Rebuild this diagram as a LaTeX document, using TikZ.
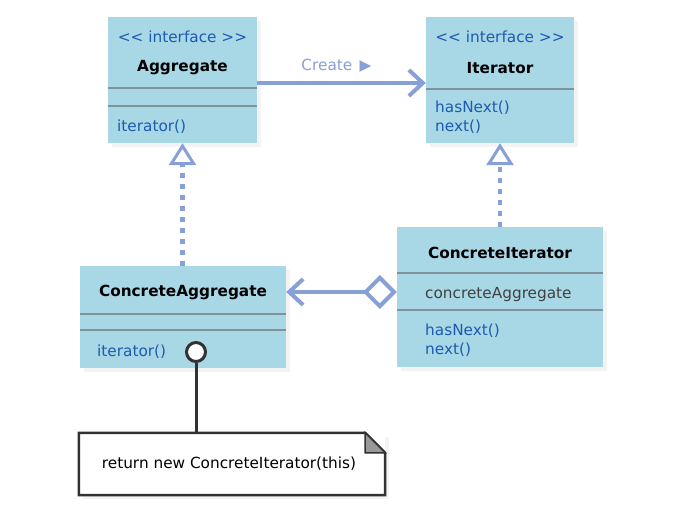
\documentclass[tikz,border=0pt]{standalone}
\usepackage{fontspec}
\usepackage{tikz}
\usetikzlibrary{arrows.meta,positioning,calc,shadows}
\newfontfamily\umlfont{DejaVu Sans}
\definecolor{classfill}{RGB}{168,216,230}
\definecolor{methodblue}{RGB}{30,90,175}
\definecolor{linkblue}{RGB}{135,160,215}
\definecolor{sepgray}{RGB}{128,146,154}
\definecolor{notegray}{RGB}{50,50,50}

\begin{document}
\begin{tikzpicture}[x=1pt, y=-1pt,
    font=\umlfont\fontsize{15.3}{18}\selectfont,
    classbox/.style={fill=classfill, inner sep=0pt,
        drop shadow={opacity=0.09, shadow xshift=4pt, shadow yshift=-4pt}},
    stereo/.style={text=methodblue},
    title/.style={font=\umlfont\bfseries\fontsize{15.3}{18}\selectfont},
    member/.style={anchor=west, inner sep=0pt, text=methodblue},
    sep/.style={draw=sepgray, line width=1.5pt},
    assoc/.style={draw=linkblue, line width=4pt, -{Straight Barb[length=14pt, width=26pt]}},
    realize/.style={draw=linkblue, line width=4.5pt, dash pattern=on 4.5pt off 6.5pt,
        -{Triangle[length=22pt, width=27pt, line width=3pt, fill=white]}},
]
    % Page
    \useasboundingbox[fill=white] (0,0) rectangle (688,517);

    % Aggregate interface
    \node[classbox, minimum width=149pt, minimum height=126pt] (agg) at (182.5,80) {};
    \node[stereo] at (182.5,37) {<< interface >>};
    \node[title] at (182.5,68) {Aggregate};
    \draw[sep] (108,88) -- (257,88);
    \draw[sep] (108,106) -- (257,106);
    \node[member] at (117,127) {iterator()};

    % Iterator interface
    \node[classbox, minimum width=148pt, minimum height=126pt] (iter) at (500,80) {};
    \node[stereo] at (500,37) {<< interface >>};
    \node[title] at (500,68) {Iterator};
    \draw[sep] (426,89) -- (574,89);
    \node[member] at (435,108) {hasNext()};
    \node[member] at (435,127) {next()};

    % ConcreteAggregate
    \node[classbox, minimum width=206pt, minimum height=102pt] (cagg) at (183,317) {};
    \node[title] at (183,292) {ConcreteAggregate};
    \draw[sep] (80,314) -- (286,314);
    \draw[sep] (80,330) -- (286,330);
    \node[member] at (97,352) {iterator()};

    % ConcreteIterator
    \node[classbox, minimum width=206pt, minimum height=140pt] (citer) at (500,297) {};
    \node[title] at (500,253) {ConcreteIterator};
    \draw[sep] (397,273) -- (603,273);
    \node[member, text=black!75] at (425,295) {concreteAggregate};
    \draw[sep] (397,310) -- (603,310);
    \node[member] at (425,331) {hasNext()};
    \node[member] at (425,350) {next()};

    % Create association
    \draw[assoc] ([yshift=-3pt]agg.east) -- ([yshift=-3pt]iter.west)
        node[midway, above=5pt, xshift=-5pt, text=linkblue] {Create \,▶};

    % Realizations
    \draw[realize] (agg.south |- cagg.north) -- (agg.south);
    \draw[realize] (iter.south |- citer.north) -- (iter.south);

    % Aggregation
    \draw[assoc, {Diamond[length=34pt, width=34pt, line width=4pt, fill=white]}-{Straight Barb[length=14pt, width=26pt]}]
        ([yshift=5pt]citer.west) -- ([yshift=5pt]citer.west -| cagg.east);

    % Note on iterator()
    \node[circle, draw=notegray, line width=3pt, fill=white, minimum size=19pt, inner sep=0pt] (lolli) at (196,352) {};
    \node[minimum width=306pt, minimum height=62pt, inner sep=0pt,
        drop shadow={opacity=0.09, shadow xshift=4pt, shadow yshift=-4pt}, fill=white] (note) at (232,464) {};
    \draw[notegray, line width=2.5pt, line join=miter, fill=white]
        (note.north west) -- ([xshift=-20pt]note.north east) -- ([yshift=-20pt]note.north east)
        -- (note.south east) -- (note.south west) -- cycle;
    \draw[notegray, line width=1.5pt, fill=black!40]
        ([xshift=-20pt]note.north east) -- ([xshift=-20pt, yshift=-20pt]note.north east)
        -- ([yshift=-20pt]note.north east) -- cycle;
    \node at ([xshift=-3pt]note.center) {return new ConcreteIterator(this)};
    \draw[notegray, line width=3pt] (lolli) -- (lolli |- note.north);
\end{tikzpicture}
\end{document}
